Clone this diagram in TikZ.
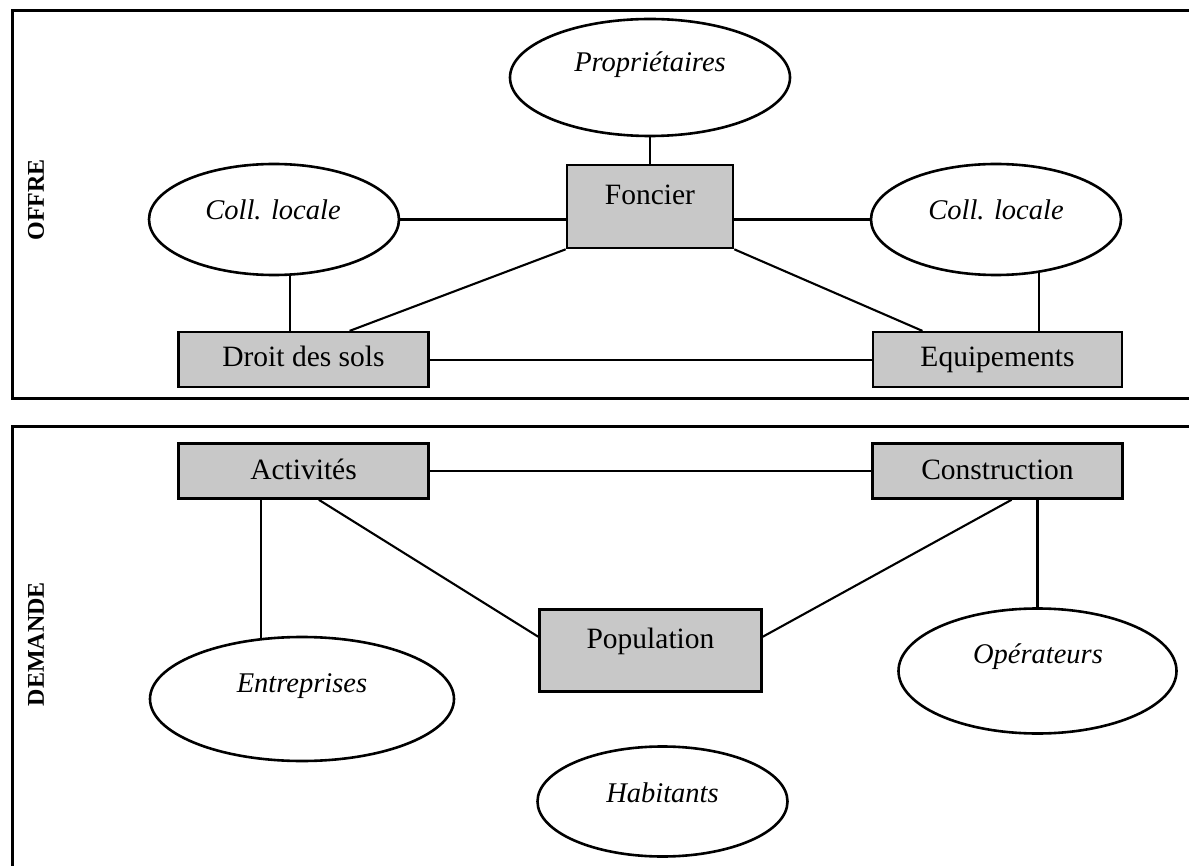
\documentclass[tikz,border=0pt]{standalone}
\usepackage{fontspec}
\setmainfont{Liberation Serif}
\usetikzlibrary{shapes.geometric}

\definecolor{grisboite}{RGB}{200,200,200}
\tikzset{every picture/.style={line width=0.75pt}}
\tikzset{
  boite/.style={draw, line width=2.6pt, fill=grisboite, inner sep=0pt},
  bulle/.style={draw, ellipse, line width=2.6pt, inner sep=0pt},
  lien/.style={line width=2.1pt},
  cadre/.style={line width=3pt},
  txt/.style={anchor=base, inner sep=0pt, font=\fontsize{29.5}{35}\selectfont},
  ital/.style={anchor=base, inner sep=0pt, font=\fontsize{28.5}{34}\selectfont\itshape},
  titre/.style={rotate=90, inner sep=0pt, font=\fontsize{24}{29}\selectfont\bfseries}
}

\begin{document}
\begin{tikzpicture}[x=1pt,y=1pt,yscale=-1,xscale=1]
        \useasboundingbox (0,0) rectangle (1189,866);
        \clip (0,0) rectangle (1189,866);

        %Shape: Rectangle (offre)
        \draw[cadre] (12,11) rectangle (1210,399);
        %Shape: Rectangle (demande)
        \draw[cadre] (12,427) rectangle (1210,890);

        %Shape: Ellipse
        \node[bulle, minimum width=280pt, minimum height=117pt] (propr) at (650,77.5) {};
        %Shape: Rectangle
        \node[boite, minimum width=166pt, minimum height=83pt] (foncier) at (650,206.5) {};
        %Shape: Ellipse
        \node[bulle, minimum width=250pt, minimum height=111pt] (collg) at (274,219.5) {};
        %Shape: Ellipse
        \node[bulle, minimum width=250pt, minimum height=111pt] (colld) at (996,219.5) {};
        %Shape: Rectangle
        \node[boite, minimum width=250pt, minimum height=55pt] (droit) at (303.5,359.7) {};
        %Shape: Rectangle
        \node[boite, minimum width=249pt, minimum height=55pt] (equip) at (997.5,359.7) {};

        %Shape: Rectangle
        \node[boite, minimum width=250pt, minimum height=55pt] (activ) at (303.5,471) {};
        %Shape: Rectangle
        \node[boite, minimum width=250pt, minimum height=55pt] (constr) at (997.5,471) {};
        %Shape: Rectangle
        \node[boite, minimum width=222pt, minimum height=82pt] (popul) at (650.5,650.5) {};
        %Shape: Ellipse
        \node[bulle, minimum width=304pt, minimum height=124pt] (entrep) at (302,699) {};
        %Shape: Ellipse
        \node[bulle, minimum width=278pt, minimum height=125pt] (operat) at (1037.5,671) {};
        %Shape: Ellipse
        \node[bulle, minimum width=250pt, minimum height=110pt] (habit) at (662.5,801.5) {};

        %Straight Lines
        \draw[lien] (propr.south) -- (foncier.north);
        \draw[lien] (collg.east) -- (collg.east -| foncier.west);
        \draw[lien] (foncier.east |- colld.west) -- (colld.west);
        \draw[lien] (collg.286) -- (collg.286 |- droit.north);
        \draw[lien] (colld.-51) -- (colld.-51 |- equip.north);
        \draw[lien] (foncier.south west) -- (droit.32.5);
        \draw[lien] (foncier.south east) -- (equip.159);
        \draw[lien] (droit.east) -- (equip.west);
        %Straight Lines
        \draw[lien] (activ.east) -- (constr.west);
        \draw[lien] (entrep.124) -- (entrep.124 |- activ.south);
        \draw[lien] (activ.-62) -- (popul.173);
        \draw[lien] (constr.-64) -- (popul.7);
        \draw[lien] (operat.north) -- (operat.north |- constr.south);

        % Text Node
        \node[titre] (tOffre) at (36,200) {OFFRE};
        % Text Node
        \node[titre] (tDemande) at (36,644) {DEMANDE};
        % Text Node
        \node[ital] (tPropr) at (650,72) {Propriétaires};
        % Text Node
        \node[txt] (tFoncier) at (650,205) {Foncier};
        % Text Node
        \node[ital] (tCollg) at (273,220) {Coll. locale};
        % Text Node
        \node[ital] (tColld) at (996,220) {Coll. locale};
        % Text Node
        \node[txt] (tDroit) at (303.5,367) {Droit des sols};
        % Text Node
        \node[txt] (tEquip) at (997.5,367) {Equipements};
        % Text Node
        \node[txt] (tActiv) at (303.5,479) {Activités};
        % Text Node
        \node[txt] (tConstr) at (997.5,479) {Construction};
        % Text Node
        \node[txt] (tPopul) at (650.5,648) {Population};
        % Text Node
        \node[ital] (tEntrep) at (302,692) {Entreprises};
        % Text Node
        \node[ital] (tOperat) at (1038,663) {Opérateurs};
        % Text Node
        \node[ital] (tHabit) at (662.5,802) {Habitants};
\end{tikzpicture}
\end{document}
